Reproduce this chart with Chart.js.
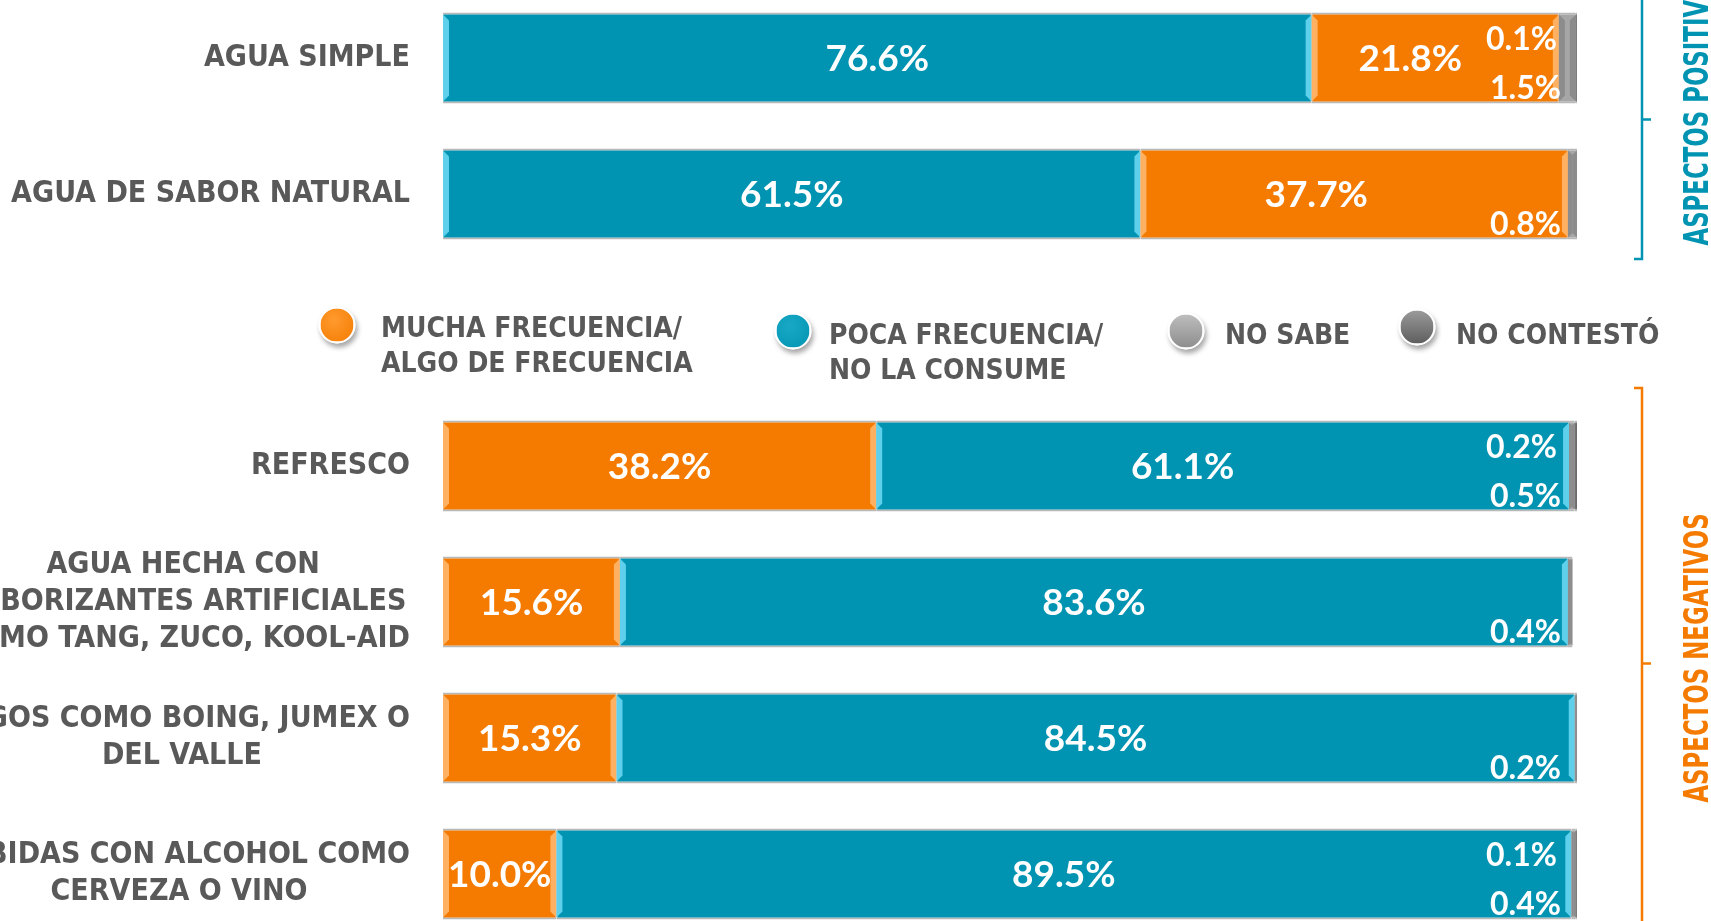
<!DOCTYPE html>
<html>
<head>
<meta charset="utf-8">
<script src="https://cdn.jsdelivr.net/npm/chart.js@4.4.1/dist/chart.umd.min.js"></script>
<style>
  html, body { margin: 0; padding: 0; background: #fff; overflow: hidden; }
  body { width: 1711px; height: 921px; position: relative; }
  #plotCanvas { position: absolute; left: 0; top: -10px; }
  .dot { position: absolute; width: 33px; height: 33px; border-radius: 50%;
         border: 2px solid #fff; box-shadow: 2px 4px 5px rgba(0,0,0,0.35);
         transform: translate(-50%, -50%); }
  .legTxt { position: absolute; font-family: "DejaVu Sans Condensed", "DejaVu Sans", sans-serif;
            font-weight: bold; font-size: 28px; line-height: 35px; color: #595959; white-space: pre; }
  .side { position: absolute; font-family: "DejaVu Sans Condensed", "DejaVu Sans", sans-serif;
          font-weight: bold; font-size: 33px; white-space: nowrap;
          transform: translate(-50%, -50%) rotate(-90deg) scaleX(0.77); }
</style>
</head>
<body>
<canvas id="plotCanvas" width="1711" height="952"></canvas>
<script>
// Categorías (la fila vacía deja sitio a la leyenda)
const categorias = [
  ["AGUA SIMPLE"],
  ["AGUA DE SABOR NATURAL"],
  [""],
  ["REFRESCO"],
  ["AGUA HECHA CON", "SABORIZANTES ARTIFICIALES", "COMO TANG, ZUCO, KOOL-AID"],
  ["JUGOS COMO BOING, JUMEX O", "DEL VALLE"],
  ["BEBIDAS CON ALCOHOL COMO", "CERVEZA O VINO"],
];
const grupo = ["pos", "pos", null, "neg", "neg", "neg", "neg"];

// Porcentajes
const mucha = [21.8, 37.7, null, 38.2, 15.6, 15.3, 10.0];
const poca = [76.6, 61.5, null, 61.1, 83.6, 84.5, 89.5];
const noSabe = [1.5, 0.8, null, 0.5, 0.4, 0.2, 0.4];
const noContesto = [0.1, null, null, 0.2, null, null, 0.1];

const series = ["MUCHA FRECUENCIA/\nALGO DE FRECUENCIA", "POCA FRECUENCIA/\nNO LA CONSUME", "NO SABE", "NO CONTESTÓ"];
const grupos = ["ASPECTOS POSITIVOS", "ASPECTOS NEGATIVOS"];

const NARANJA = "#F47B00";
const AZUL = "#0094B2";
const GRIS = "#A6A6A6";
const GRIS_OSC = "#7A7A7A";

// etiquetas movidas a mano en el original (dataset-fila: px)
const ajusteEtiqueta = { "1-0": -25, "1-1": -38, "2-3": -40 };

function soloGrupo(arr, g) {
  return arr.map((v, i) => (grupo[i] === g ? v : null));
}

// bisel claro en los bordes y etiquetas de valor
const etiquetas = {
  id: "etiquetas",
  afterDatasetsDraw(chart) {
    const ctx = chart.ctx;
    const xs = chart.scales.x;
    ctx.save();
    chart.data.datasets.forEach((ds, di) => {
      chart.getDatasetMeta(di).data.forEach((bar, i) => {
        if (ds.data[i] == null) return;
        const p = bar.getProps(["x", "base", "y", "height"], true);
        const x0 = Math.min(p.x, p.base), x1 = Math.max(p.x, p.base);
        const top = p.y - p.height / 2 + 2, bot = p.y + p.height / 2 - 2;
        const w = Math.min(6, (x1 - x0) / 2);
        ctx.fillStyle = ds.bevel;
        ctx.beginPath();
        ctx.moveTo(x0, top); ctx.lineTo(x0 + w, top + w); ctx.lineTo(x0 + w, bot - w); ctx.lineTo(x0, bot);
        ctx.closePath(); ctx.fill();
        ctx.beginPath();
        ctx.moveTo(x1, top); ctx.lineTo(x1 - w, top + w); ctx.lineTo(x1 - w, bot - w); ctx.lineTo(x1, bot);
        ctx.closePath(); ctx.fill();
      });
    });
    ctx.fillStyle = "#fff";
    ctx.textBaseline = "middle";
    chart.data.datasets.forEach((ds, di) => {
      chart.getDatasetMeta(di).data.forEach((bar, i) => {
        const v = ds.data[i];
        if (v == null) return;
        const p = bar.getProps(["x", "base", "y"], true);
        const txt = v.toFixed(1) + "%";
        if (ds.pos === "centro") {
          ctx.font = "bold 37px Lato";
          ctx.textAlign = "center";
          const dx = ajusteEtiqueta[di + "-" + i] || 0;
          ctx.fillText(txt, (p.x + p.base) / 2 + dx, p.y + 1);
        } else {
          ctx.font = "bold 32px Lato";
          ctx.textAlign = "right";
          const fin = xs.getPixelForValue(100);
          if (ds.pos === "arriba") ctx.fillText(txt, fin - 20, p.y - 18);
          else ctx.fillText(txt, fin - 16, p.y + 31);
        }
      });
    });
    ctx.restore();
  },
  afterDraw(chart) {
    const ctx = chart.ctx;
    const ys = chart.scales.y;
    const right = chart.chartArea.left - 33;
    ctx.save();
    ctx.fillStyle = "#595959";
    ctx.font = "bold 30px 'DejaVu Sans Condensed', 'DejaVu Sans'";
    ctx.textBaseline = "middle";
    ctx.textAlign = "center";
    categorias.forEach((lines, i) => {
      const cy = ys.getPixelForTick(i);
      const wmax = Math.max(...lines.map((l) => ctx.measureText(l).width));
      const cx = right - wmax / 2;
      lines.forEach((l, k) => {
        ctx.fillText(l, cx, cy + (k - (lines.length - 1) / 2) * 37);
      });
    });
    // llaves de los grupos
    [["pos", AZUL], ["neg", NARANJA]].forEach(([g, col]) => {
      const idx = grupo.map((v, i) => (v === g ? i : -1)).filter((i) => i >= 0);
      const top = ys.getPixelForTick(idx[0]) - 78;
      const bot = ys.getPixelForTick(idx[idx.length - 1]) + 65;
      const mid = (top + bot) / 2;
      const bx = 1642;
      ctx.strokeStyle = col;
      ctx.lineWidth = 2.5;
      ctx.beginPath();
      ctx.moveTo(bx - 8, top); ctx.lineTo(bx, top); ctx.lineTo(bx, bot); ctx.lineTo(bx - 8, bot);
      ctx.moveTo(bx, mid); ctx.lineTo(bx + 9, mid);
      ctx.stroke();
    });
    ctx.restore();
  },
};

function drawPlot() {
  const ctx = document.getElementById("plotCanvas").getContext("2d");
  const comun = { borderColor: "#B8B8B8", borderWidth: { top: 2, bottom: 2, left: 1, right: 1 }, borderSkipped: false };
  return new Chart(ctx, {
    type: "bar",
    data: {
      labels: categorias,
      datasets: [
        { label: series[1], data: soloGrupo(poca, "pos"), backgroundColor: AZUL, bevel: "#5ED0EC", pos: "centro", ...comun },
        { label: series[0], data: mucha, backgroundColor: NARANJA, bevel: "#FFB061", pos: "centro", ...comun },
        { label: series[1], data: soloGrupo(poca, "neg"), backgroundColor: AZUL, bevel: "#5ED0EC", pos: "centro", ...comun },
        { label: series[2], data: noSabe, backgroundColor: GRIS, bevel: "#8C8C8C", pos: "abajo", ...comun },
        { label: series[3], data: noContesto, backgroundColor: GRIS_OSC, bevel: "#6A6A6A", pos: "arriba", ...comun },
      ],
    },
    options: {
      indexAxis: "y",
      responsive: false,
      animation: false,
      barPercentage: 0.67,
      categoryPercentage: 1,
      layout: { padding: { left: 0, right: 134, top: 0, bottom: 0 } },
      plugins: { legend: { display: false }, tooltip: { enabled: false } },
      scales: {
        x: { stacked: true, min: 0, max: 100, display: false },
        y: {
          stacked: true,
          grid: { display: false },
          border: { display: false },
          ticks: { display: false },
          afterFit(s) { s.width = 443; },
        },
      },
    },
    plugins: [etiquetas],
  });
}

const chart = drawPlot();

// leyenda y títulos de grupo en HTML
const coloresLeyenda = [
  "radial-gradient(circle at 40% 35%, #FF9A2E, " + NARANJA + ")",
  "radial-gradient(circle at 40% 35%, #19A9C6, " + AZUL + ")",
  "linear-gradient(#BDBDBD, #8E8E8E)",
  "linear-gradient(#9A9A9A, #5E5E5E)",
];
const leyendaPos = [[337, 325, 381, 310], [793, 331, 829, 317], [1186, 331, 1225, 317], [1417, 327, 1456, 317]];
series.forEach((nombre, k) => {
  const [cx, cy, tx, ty] = leyendaPos[k];
  const d = document.createElement("div");
  d.className = "dot";
  d.style.left = cx + "px"; d.style.top = cy + "px";
  d.style.background = coloresLeyenda[k];
  document.body.appendChild(d);
  const t = document.createElement("div");
  t.className = "legTxt";
  t.style.left = tx + "px"; t.style.top = ty + "px";
  t.textContent = nombre;
  document.body.appendChild(t);
});
[[grupos[0], AZUL, 105], [grupos[1], NARANJA, 658]].forEach(([txt, col, cy]) => {
  const s = document.createElement("div");
  s.className = "side";
  s.style.left = "1696px"; s.style.top = cy + "px";
  s.style.color = col;
  s.textContent = txt;
  document.body.appendChild(s);
});
</script>
</body>
</html>
